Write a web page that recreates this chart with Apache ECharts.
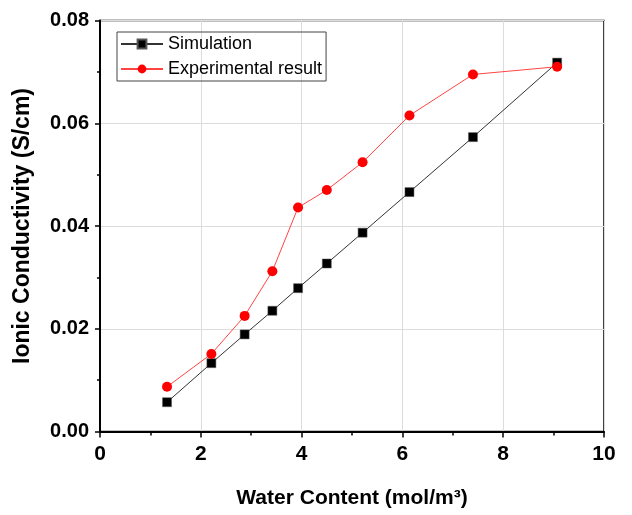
<!DOCTYPE html>
<html>
<head>
<meta charset="utf-8">
<script src="https://cdn.jsdelivr.net/npm/echarts@6/dist/echarts.min.js"></script>
<style>
  html, body { margin: 0; padding: 0; background: #fff; }
  #chart { width: 632px; height: 515px; }
</style>
</head>
<body>
<div id="chart"></div>
<script>
  // values
  var waterContent = [1.33, 2.21, 2.87, 3.42, 3.93, 4.50, 5.21, 6.14, 7.40, 9.07];
  var simulation = [0.0057, 0.0133, 0.0189, 0.0235, 0.0279, 0.0327, 0.0387, 0.0466, 0.0573, 0.0718];
  var experiment = [0.0087, 0.0151, 0.0225, 0.0312, 0.0436, 0.0470, 0.0524, 0.0615, 0.0695, 0.0710];
  var seriesNames = ["Simulation", "Experimental result"];

  function pairs(xs, ys) {
    return xs.map(function(x, i) { return [x, ys[i]]; });
  }

  var myChart = echarts.init(document.getElementById("chart"));

  var options = {
    animation: false,
    grid: {
      left: 100,
      right: 28,
      top: 20.5,
      bottom: 83.5,
      show: true,
      borderColor: "#000",
      borderWidth: 1.5,
    },
    legend: {
      data: seriesNames,
      orient: "vertical",
      left: 117,
      top: 32,
      padding: [3, 4, 3, 3],
      itemWidth: 42,
      itemHeight: 11,
      itemGap: 7,
      borderColor: "#444",
      borderWidth: 1,
      textStyle: {
        fontFamily: "Liberation Sans",
        fontSize: 18,
        lineHeight: 18,
        color: "#000",
      },
    },
    xAxis: {
      type: "value",
      min: 0,
      max: 10,
      interval: 2,
      name: "Water Content (mol/m³)",
      nameLocation: "middle",
      nameGap: 56,
      nameTextStyle: {
        fontFamily: "Liberation Sans",
        fontWeight: "bold",
        fontSize: 21,
        color: "#000",
      },
      axisLine: { show: true, lineStyle: { color: "#000", width: 2 } },
      axisTick: { show: true, length: 6, lineStyle: { color: "#000", width: 1.5 } },
      minorTick: { show: true, splitNumber: 2, length: 4, lineStyle: { color: "#000", width: 1.5 } },
      axisLabel: {
        margin: 12,
        fontFamily: "Liberation Sans",
        fontWeight: "bold",
        fontSize: 21,
        color: "#000",
      },
      splitLine: { show: true, lineStyle: { color: "#dcdcdc", width: 1 } },
    },
    yAxis: {
      type: "value",
      min: 0,
      max: 0.08,
      interval: 0.02,
      name: "Ionic Conductivity (S/cm)",
      nameLocation: "middle",
      nameGap: 66,
      nameTextStyle: {
        fontFamily: "Liberation Sans",
        fontWeight: "bold",
        fontSize: 23,
        color: "#000",
      },
      axisLine: { show: true, lineStyle: { color: "#000", width: 2 } },
      axisTick: { show: true, length: 5, lineStyle: { color: "#000", width: 1.5 } },
      minorTick: { show: true, splitNumber: 2, length: 3, lineStyle: { color: "#000", width: 1.5 } },
      axisLabel: {
        margin: 11,
        fontFamily: "Liberation Sans",
        fontWeight: "bold",
        fontSize: 20,
        color: "#000",
        formatter: function(v) { return v.toFixed(2); },
      },
      splitLine: { show: true, lineStyle: { color: "#dcdcdc", width: 1 } },
    },
    series: [
      {
        name: seriesNames[0],
        type: "line",
        data: pairs(waterContent, simulation),
        symbol: "rect",
        symbolSize: 9,
        itemStyle: { color: "#000", borderColor: "#555", borderWidth: 0.5 },
        lineStyle: { color: "#333", width: 1 },
      },
      {
        name: seriesNames[1],
        type: "line",
        data: pairs(waterContent, experiment),
        symbol: "circle",
        symbolSize: 10,
        itemStyle: { color: "#ff0000" },
        lineStyle: { color: "#ff4444", width: 1 },
      },
    ],
  };
  myChart.setOption(options);
  window.addEventListener("resize", function() {
    myChart.resize();
  });
</script>
</body>
</html>
